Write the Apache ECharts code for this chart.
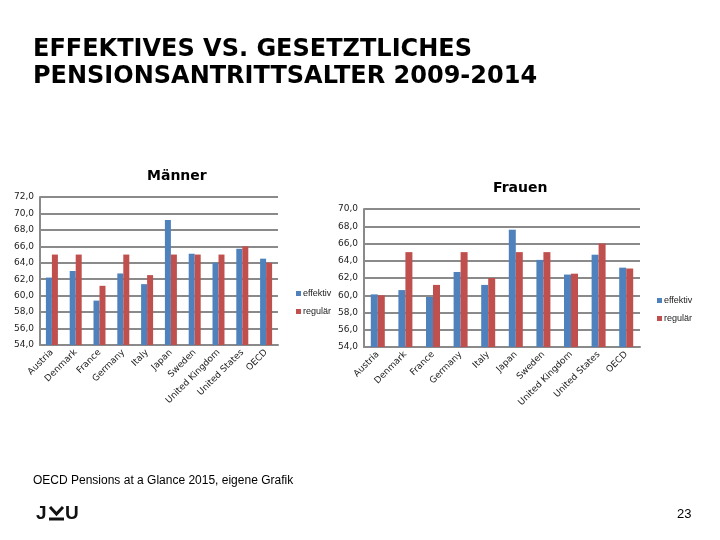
<!DOCTYPE html>
<html><head><meta charset="utf-8">
<script src="https://cdn.jsdelivr.net/npm/echarts@6/dist/echarts.min.js"></script>
<style>html,body{margin:0;padding:0;background:#fff}#c{width:720px;height:540px}</style>
</head><body><div id="c"></div>
<script>
const categories = ['Austria','Denmark','France','Germany','Italy','Japan','Sweden','United Kingdom','United States','OECD'];
const menEffektiv = [62.2, 63.0, 59.4, 62.7, 61.4, 69.2, 65.1, 64.0, 65.7, 64.5];
const menRegulaer = [65.0, 65.0, 61.2, 65.0, 62.5, 65.0, 65.0, 65.0, 66.0, 64.0];
const womenEffektiv = [60.1, 60.6, 59.8, 62.7, 61.2, 67.6, 64.1, 62.4, 64.7, 63.2];
const womenRegulaer = [60.0, 65.0, 61.2, 65.0, 62.0, 65.0, 65.0, 62.5, 66.0, 63.1];
const menTicks = [54, 72, 2];
const womenTicks = [54, 70, 2];

const BLUE = '#4F81BD', RED = '#C0504D', GRID = '#8a8a8a';
const chart = echarts.init(document.getElementById('c'));
const fmt = v => v.toFixed(1).replace('.', ',');
function yAxis(idx, t) {
  return {gridIndex: idx, type: 'value', min: t[0], max: t[1], interval: t[2],
    axisLine: {show: true, lineStyle: {color: GRID, width: 2}},
    axisTick: {show: false},
    splitLine: {lineStyle: {color: GRID, width: 2}},
    axisLabel: {formatter: fmt, fontSize: 9, color: '#222', margin: 6, fontFamily: 'DejaVu Sans'}};
}
function xAxis(idx) {
  return {gridIndex: idx, type: 'category', data: categories,
    axisLine: {lineStyle: {color: GRID, width: 2}}, axisTick: {show: false},
    axisLabel: {rotate: 45, fontSize: 9, color: '#222', margin: 6, interval: 0, fontFamily: 'DejaVu Sans'}};
}
const base = {type: 'bar', barGap: '0%', animation: false};
chart.setOption({
  animation: false,
  title: [
    {text: 'Männer', left: 142, top: 164, textStyle: {fontSize: 14, fontWeight: 'bold', color: '#000', fontFamily: 'DejaVu Sans'}},
    {text: 'Frauen', left: 488, top: 176, textStyle: {fontSize: 14, fontWeight: 'bold', color: '#000', fontFamily: 'DejaVu Sans'}}
  ],
  grid: [
    {left: 40, top: 197, width: 238, height: 148},
    {left: 364, top: 209, width: 276, height: 138}
  ],
  xAxis: [xAxis(0), xAxis(1)],
  yAxis: [yAxis(0, menTicks), yAxis(1, womenTicks)],
  legend: [
    {orient: 'vertical', left: 291, top: 284, itemWidth: 5, itemHeight: 5, itemGap: 9, icon: 'rect',
      data: ['effektiv', 'regulär'], textStyle: {fontSize: 9, color: '#222', padding: [0,0,0,-3]}},
    {orient: 'vertical', left: 652, top: 291, itemWidth: 5, itemHeight: 5, itemGap: 9, icon: 'rect',
      data: ['effektiv', 'regulär'], textStyle: {fontSize: 9, color: '#222', padding: [0,0,0,-3]}}
  ],
  series: [
    Object.assign({}, base, {name: 'effektiv', xAxisIndex: 0, yAxisIndex: 0, data: menEffektiv, barWidth: 6, itemStyle: {color: BLUE}}),
    Object.assign({}, base, {name: 'regulär', xAxisIndex: 0, yAxisIndex: 0, data: menRegulaer, barWidth: 6, itemStyle: {color: RED}}),
    Object.assign({}, base, {name: 'effektiv', xAxisIndex: 1, yAxisIndex: 1, data: womenEffektiv, barWidth: 7, itemStyle: {color: BLUE}}),
    Object.assign({}, base, {name: 'regulär', xAxisIndex: 1, yAxisIndex: 1, data: womenRegulaer, barWidth: 7, itemStyle: {color: RED}})
  ],
  graphic: [
    {type: 'text', left: 33, top: 36, style: {text: 'EFFEKTIVES VS. GESETZTLICHES\nPENSIONSANTRITTSALTER 2009-2014', font: 'bold 24px "DejaVu Sans"', fill: '#000', lineHeight: 27}},
    {type: 'text', left: 33, top: 475, style: {text: 'OECD Pensions at a Glance 2015, eigene Grafik', font: '12px "Liberation Sans"', fill: '#000'}},
    {type: 'text', left: 677, top: 508, style: {text: '23', font: '13px "Liberation Sans"', fill: '#000'}},
    {type: 'text', left: 36, top: 504, style: {text: 'J', font: 'bold 19px "Liberation Sans"', fill: '#111'}},
    {type: 'polyline', shape: {points: [[50, 507], [56.5, 514], [63, 507]]}, style: {stroke: '#111', lineWidth: 3, fill: null}},
    {type: 'line', shape: {x1: 49, y1: 519, x2: 64, y2: 519}, style: {stroke: '#111', lineWidth: 3}},
    {type: 'text', left: 65, top: 504, style: {text: 'U', font: 'bold 19px "Liberation Sans"', fill: '#111'}}
  ]
});
</script></body></html>
